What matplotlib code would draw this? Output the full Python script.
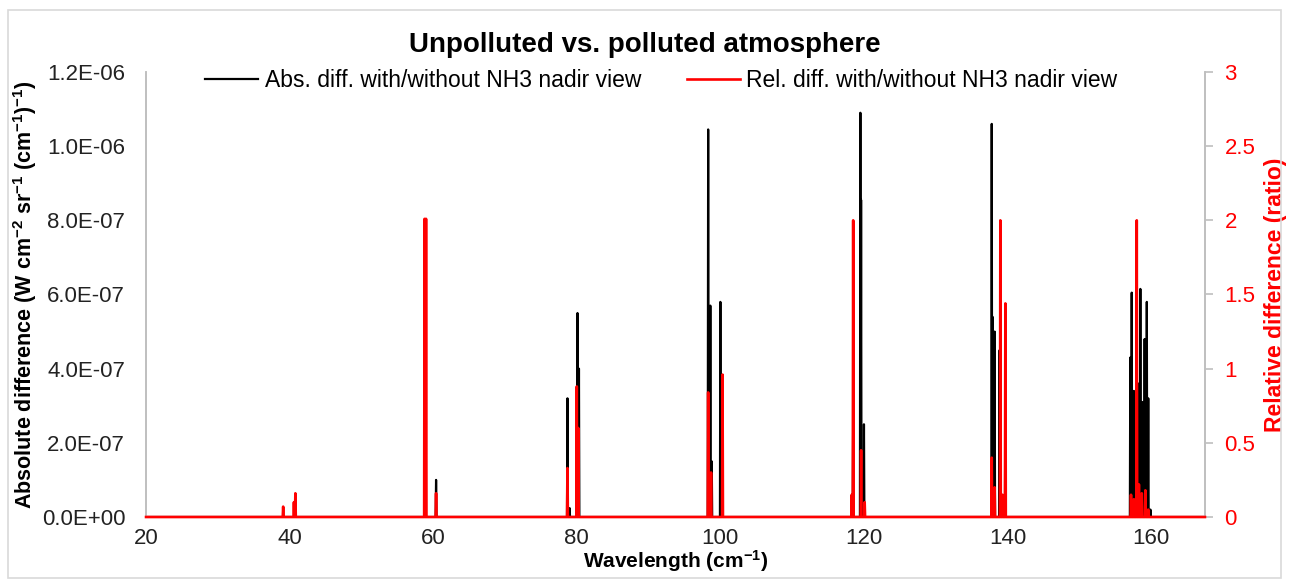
import matplotlib
matplotlib.use("Agg")
import matplotlib.pyplot as plt
import numpy as np

plt.rcParams['font.family'] = ['Liberation Sans', 'DejaVu Sans']
plt.rcParams['mathtext.default'] = 'regular'

# wavenumber range of the spectrum
x_start, x_end = 20.0, 167.5

# absolute difference peaks (W cm-2 sr-1 (cm-1)-1)
abs_pos = [39.1, 40.8, 58.9, 60.4, 78.7, 79.0, 80.1, 80.3,
           98.3, 98.6, 98.8, 100.0, 100.2,
           118.5, 119.5, 119.6, 120.0,
           137.8, 137.9, 138.2, 138.9, 139.7,
           157.1, 157.3, 157.6, 158.2, 158.5, 158.8, 159.1, 159.4, 159.6, 159.9]
abs_val = [0.5e-8, 1.0e-8, 1.5e-7, 1.0e-7, 3.2e-7, 2.4e-8, 5.5e-7, 4.0e-7,
           1.045e-6, 5.7e-7, 1.5e-7, 5.8e-7, 2.0e-7,
           2.7e-7, 1.09e-6, 8.55e-7, 2.5e-7,
           1.06e-6, 5.4e-7, 5.0e-7, 4.5e-7, 3.4e-7,
           4.3e-7, 6.05e-7, 3.4e-7, 3.6e-7, 6.15e-7, 3.1e-7, 4.8e-7, 5.8e-7, 3.2e-7, 0.2e-7]

# relative difference peaks (ratio)
rel_pos = [39.1, 40.6, 40.8, 58.8, 59.0, 60.4, 78.7, 80.0, 80.2,
           98.3, 98.7, 100.3,
           118.3, 118.5, 119.6, 120.1,
           137.8, 138.2, 139.0, 139.3, 139.7,
           157.2, 157.6, 158.0, 158.3, 158.7, 159.2, 159.6]
rel_val = [0.07, 0.10, 0.16, 2.01, 2.01, 0.16, 0.33, 0.88, 0.60,
           0.84, 0.30, 0.96,
           0.15, 2.0, 0.45, 0.10,
           0.40, 0.20, 2.0, 0.15, 1.44,
           0.15, 0.12, 2.0, 0.22, 0.16, 0.18, 0.05]

x_ticks = [20, 40, 60, 80, 100, 120, 140, 160]
left_ticks = [0, 2e-7, 4e-7, 6e-7, 8e-7, 1.0e-6, 1.2e-6]
left_labels = ["0.0E+00", "2.0E-07", "4.0E-07", "6.0E-07", "8.0E-07", "1.0E-06", "1.2E-06"]
right_ticks = [0, 0.5, 1, 1.5, 2, 2.5, 3]
right_labels = ["0", "0.5", "1", "1.5", "2", "2.5", "3"]


def spikes(pos, val, half=0.06):
    # narrow line profile on a zero baseline
    xs, ys = [x_start], [0.0]
    for p, v in sorted(zip(pos, val)):
        xs += [p - half, p, p + half]
        ys += [0.0, v, 0.0]
    xs.append(x_end)
    ys.append(0.0)
    return xs, ys


fig = plt.figure(figsize=(12.89, 5.8), dpi=100)
ax = fig.add_axes([0.1133, 0.1086, 0.8215, 0.7673])
ax2 = ax.twinx()

ax_x, ax_y = spikes(abs_pos, abs_val)
rl_x, rl_y = spikes(rel_pos, rel_val)
l1, = ax.plot(ax_x, ax_y, color='black', lw=1.6,
              label='Abs. diff. with/without NH3 nadir view')
l2, = ax2.plot(rl_x, rl_y, color='#ff0000', lw=1.9, clip_on=False, zorder=3,
               label='Rel. diff. with/without NH3 nadir view')

ax.set_xlim(x_start, x_end)
ax.set_ylim(0, 1.2e-6)
ax2.set_ylim(0, 3)
ax.set_xticks(x_ticks)
ax.set_yticks(left_ticks)
ax.set_yticklabels(left_labels)
ax2.set_yticks(right_ticks)
ax2.set_yticklabels(right_labels)

for a in (ax, ax2):
    a.spines['top'].set_visible(False)
    a.spines['bottom'].set_visible(False)
    for s in ('left', 'right'):
        a.spines[s].set_color('#bfbfbf')
        a.spines[s].set_linewidth(1.2)
ax.tick_params(axis='x', length=0, labelsize=16, pad=8, colors='#222222')
ax.tick_params(axis='y', length=0, labelsize=16, pad=15, colors='#222222')
ax2.tick_params(axis='y', length=6, width=1.2, color='#bfbfbf',
                labelsize=16, pad=8, labelcolor='#ff0000')

ax.set_xlabel('Wavelength (cm$^{-1}$)', fontsize=15, fontweight='bold', labelpad=-1)
ax.set_ylabel('Absolute difference (W cm$^{-2}$ sr$^{-1}$ (cm$^{-1}$)$^{-1}$)',
              fontsize=15.5, fontweight='bold', labelpad=2)
ax2.set_ylabel('Relative difference (ratio)', fontsize=16.5, fontweight='bold',
               color='#ff0000', labelpad=6)

fig.suptitle('Unpolluted vs. polluted atmosphere', fontsize=20,
             fontweight='bold', y=0.945)
fig.legend(handles=[l1, l2], loc='center', bbox_to_anchor=(0.513, 0.862),
           ncol=2, frameon=False, fontsize=16.5, handlelength=2.3,
           handletextpad=0.3, columnspacing=2.0)

# light frame around the chart area
fig.patches.append(plt.Rectangle((0.006, 0.004), 0.988, 0.978, transform=fig.transFigure,
                                 fill=False, edgecolor='#d9d9d9', lw=1.2))

fig.savefig('out.png', dpi=100)
